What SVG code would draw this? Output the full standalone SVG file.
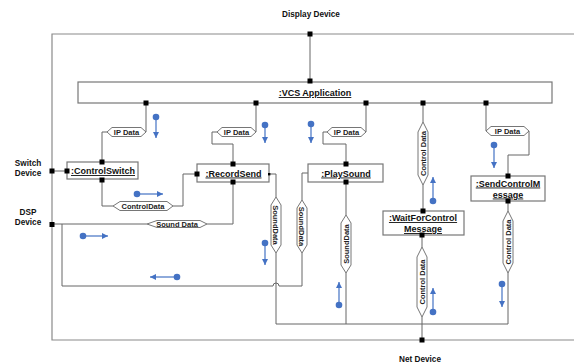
<svg xmlns="http://www.w3.org/2000/svg" width="574" height="364" viewBox="0 0 574 364">
  <style>
    .frame { fill: none; stroke: #8a8a8a; stroke-width: 1.2; }
    .wire { fill: none; stroke: #666; stroke-width: 1; }
    .box { fill: #fff; stroke: #777; stroke-width: 1.2; }
    .hex { fill: #fff; stroke: #666; stroke-width: 0.9; }
    .port { fill: #000; }
    .name { font-family: "Liberation Sans", Arial, sans-serif; font-weight: bold; font-size: 9px; text-anchor: middle; text-decoration: underline; fill: #111; }
    .dev { font-family: "Liberation Sans", Arial, sans-serif; font-weight: bold; font-size: 8.2px; text-anchor: middle; fill: #111; }
    .lbl { font-family: "Liberation Sans", Arial, sans-serif; font-weight: bold; font-size: 7.5px; text-anchor: middle; fill: #222; }
    .flow { fill: none; stroke: #4472c4; stroke-width: 1.2; marker-end: url(#head); }
    .dot { fill: #4472c4; }
  </style>
  <defs>
    <marker id="head" markerWidth="6" markerHeight="6" refX="6" refY="3" orient="auto" markerUnits="userSpaceOnUse">
      <path d="M0,0 L6,3 L0,6 z" fill="#4472c4"/>
    </marker>
  </defs>

  <!-- outer device frame -->
  <path class="frame" d="M574,34 H52 V340 H574"/>
  <text class="dev" x="311" y="17">Display Device</text>
  <text class="dev" x="28" y="166">Switch</text>
  <text class="dev" x="28" y="176">Device</text>
  <text class="dev" x="28" y="215">DSP</text>
  <text class="dev" x="28" y="225">Device</text>
  <text class="dev" x="420" y="362">Net Device</text>

  <!-- connectors -->
  <g id="connectors">
    <path class="wire" d="M310,34 V81"/>
    <path class="wire" d="M146,103 V132 M107,132 H102 V162"/>
    <path class="wire" d="M256,103 V132 M217,132 H212 V144 H233 V164"/>
    <path class="wire" d="M366,103 V132 M327,132 H323 V144 H346 V164"/>
    <path class="wire" d="M423,103 V122 M423,185 V211"/>
    <path class="wire" d="M486,103 V131 M529,131 V155 H508 V176"/>
    <path class="wire" d="M52,171 H67"/>
    <path class="wire" d="M102,180 V206 H113 M173,206 H183 V174 H197"/>
    <path class="wire" d="M52,224 H147 M207,224 H233 V182"/>
    <path class="wire" d="M62,224 V286 H273 A3,3 0 0 1 279,286 H302 V253 M302,200 V173 H308"/>
    <path class="wire" d="M269,174 H276 V197 M276,253 V324 H508 V273 M508,211 V201"/>
    <path class="wire" d="M346,182 V215 M346,273 V324"/>
    <path class="wire" d="M422,235 V247 M422,317 V340"/>

    <!-- data labels on the links -->
    <polygon class="hex" points="107,132 112,127.5 141,127.5 146,132 141,136.5 112,136.5"/>
    <text class="lbl" x="126.5" y="134.7">IP Data</text>
    <polygon class="hex" points="217,132 222,127.5 251,127.5 256,132 251,136.5 222,136.5"/>
    <text class="lbl" x="236.5" y="134.7">IP Data</text>
    <polygon class="hex" points="327,132 332,127.5 361,127.5 366,132 361,136.5 332,136.5"/>
    <text class="lbl" x="346.5" y="134.7">IP Data</text>
    <polygon class="hex" points="486,131 491,126.5 524,126.5 529,131 524,135.5 491,135.5"/>
    <text class="lbl" x="507.5" y="133.7">IP Data</text>
    <polygon class="hex" points="113,206 120,201.5 167,201.5 173,206 167,210.5 120,210.5"/>
    <text class="lbl" x="143" y="208.7">ControlData</text>
    <polygon class="hex" points="147,224 157,220.5 200,220.5 207,224 200,227.5 157,227.5"/>
    <text class="lbl" x="177" y="226.7">Sound Data</text>

    <polygon class="hex" points="276,197 281,205 281,245 276,253 271,245 271,205"/>
    <text class="lbl" transform="translate(276,225) rotate(90)" x="0" y="2.7">SoundData</text>
    <polygon class="hex" points="302,200 307,208 307,245 302,253 297,245 297,208"/>
    <text class="lbl" transform="translate(302,226.5) rotate(90)" x="0" y="2.7">SoundData</text>
    <polygon class="hex" points="346,215 351,223 351,265 346,273 341,265 341,223"/>
    <text class="lbl" transform="translate(346,244) rotate(-90)" x="0" y="2.7">SoundData</text>
    <polygon class="hex" points="423,122 428,132 428,175 423,185 418,175 418,132"/>
    <text class="lbl" transform="translate(423,153.5) rotate(-90)" x="0" y="2.7">Control Data</text>
    <polygon class="hex" points="422,247 427,257 427,307 422,317 417,307 417,257"/>
    <text class="lbl" transform="translate(422,282) rotate(-90)" x="0" y="2.7">Control Data</text>
    <polygon class="hex" points="508,211 513,221 513,263 508,273 503,263 503,221"/>
    <text class="lbl" transform="translate(508,242) rotate(-90)" x="0" y="2.7">Control Data</text>
  </g>

  <!-- nodes -->
  <g id="vcs-application">
    <rect class="box" x="78" y="82" width="474" height="21"/>
    <text class="name" x="315" y="96">:VCS Application</text>
  </g>
  <g id="control-switch">
    <rect class="box" x="67" y="162" width="71" height="17"/>
    <text class="name" x="103" y="174">:ControlSwitch</text>
  </g>
  <g id="record-send">
    <rect class="box" x="197" y="164" width="72" height="18"/>
    <text class="name" x="233.5" y="176.5">:RecordSend</text>
  </g>
  <g id="play-sound">
    <rect class="box" x="308" y="164" width="75" height="18"/>
    <text class="name" x="346" y="176.5">:PlaySound</text>
  </g>
  <g id="wait-for-control-message">
    <rect class="box" x="383" y="211" width="81" height="24"/>
    <text class="name" x="423" y="221">:WaitForControl</text>
    <text class="name" x="423" y="232">Message</text>
  </g>
  <g id="send-control-message">
    <rect class="box" x="471" y="176" width="74" height="25"/>
    <text class="name" x="508" y="186.5">:SendControlM</text>
    <text class="name" x="508" y="197.5">essage</text>
  </g>

  <!-- ports -->
  <g id="ports">
    <rect class="port" x="307.5" y="31.5" width="5" height="5"/>
    <rect class="port" x="307.5" y="78.5" width="5" height="5"/>
    <rect class="port" x="143.5" y="100.5" width="5" height="5"/>
    <rect class="port" x="253.5" y="100.5" width="5" height="5"/>
    <rect class="port" x="363.5" y="100.5" width="5" height="5"/>
    <rect class="port" x="420.5" y="100.5" width="5" height="5"/>
    <rect class="port" x="483.5" y="100.5" width="5" height="5"/>
    <rect class="port" x="99.5" y="159.5" width="5" height="5"/>
    <rect class="port" x="99.5" y="177.5" width="5" height="5"/>
    <rect class="port" x="64.5" y="168.5" width="5" height="5"/>
    <rect class="port" x="49.5" y="168.5" width="5" height="5"/>
    <rect class="port" x="49.5" y="222" width="5" height="5"/>
    <rect class="port" x="230.5" y="161.5" width="5" height="5"/>
    <rect class="port" x="230.5" y="179.5" width="5" height="5"/>
    <rect class="port" x="194.5" y="171.5" width="5" height="5"/>
    <rect class="port" x="268" y="173" width="2.4" height="2.4"/>
    <rect class="port" x="343.5" y="161.5" width="5" height="5"/>
    <rect class="port" x="343.5" y="179.5" width="5" height="5"/>
    <rect class="port" x="420.5" y="208.5" width="5" height="5"/>
    <rect class="port" x="419.5" y="232.5" width="5" height="5"/>
    <rect class="port" x="505.5" y="173.5" width="5" height="5"/>
    <rect class="port" x="505.5" y="198.5" width="5" height="5"/>
    <rect class="port" x="419.5" y="337.5" width="5" height="5"/>
  </g>

  <!-- data flow directions -->
  <g id="flows">
    <circle class="dot" cx="156" cy="117" r="3.3"/><path class="flow" d="M156,117 V138"/>
    <circle class="dot" cx="265" cy="125" r="3.3"/><path class="flow" d="M265,125 V143"/>
    <circle class="dot" cx="311" cy="124" r="3.3"/><path class="flow" d="M311,124 V143"/>
    <circle class="dot" cx="494" cy="145" r="3.3"/><path class="flow" d="M494,145 V168"/>
    <circle class="dot" cx="137" cy="194" r="3.3"/><path class="flow" d="M137,194 H163"/>
    <circle class="dot" cx="83" cy="236" r="3.3"/><path class="flow" d="M83,236 H108"/>
    <circle class="dot" cx="177" cy="277" r="3.3"/><path class="flow" d="M177,277 H150"/>
    <circle class="dot" cx="265" cy="243" r="3.3"/><path class="flow" d="M265,243 V265"/>
    <circle class="dot" cx="433" cy="201" r="3.3"/><path class="flow" d="M433,201 V177"/>
    <circle class="dot" cx="339" cy="305" r="3.3"/><path class="flow" d="M339,305 V282"/>
    <circle class="dot" cx="433" cy="312" r="3.3"/><path class="flow" d="M433,312 V288"/>
    <circle class="dot" cx="502" cy="284" r="3.3"/><path class="flow" d="M502,284 V307"/>
  </g>
</svg>
